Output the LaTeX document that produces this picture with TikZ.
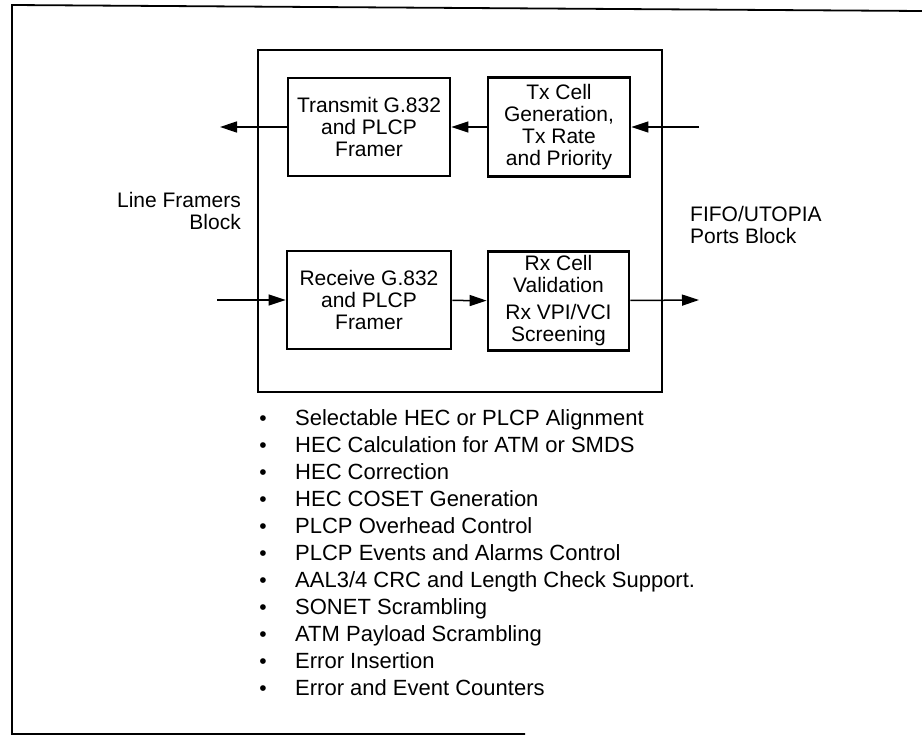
\documentclass[tikz,border=0pt]{standalone}
\usepackage{fontspec}
\setmainfont{Liberation Sans}
\usetikzlibrary{arrows.meta, positioning}

\begin{document}
\begin{tikzpicture}[
  x=1pt, y=-1pt,
  block/.style={rectangle, draw, line width=2.8pt, align=center, minimum height=98pt, inner sep=0pt, font=\fontsize{21}{22}\selectfont},
  sidetext/.style={inner sep=0pt, font=\fontsize{21}{22}\selectfont},
  feature/.style={inner sep=0pt, anchor=base west, font=\fontsize{22}{22}\selectfont},
  arrow/.style={-{Triangle[length=17pt, width=11pt]}, line width=1.5pt}
]
  \useasboundingbox (0,0) rectangle (922,736);
  \draw[line width=1.8pt] (922,11) -- (12,5) -- (12,734) -- (525,734);

  \node[draw, line width=1.6pt, minimum width=404pt, minimum height=342pt, inner sep=0pt] (core) at (460,221) {};

  \node[block, minimum width=162pt] (txframer) at (369,127) {Transmit G.832\\and PLCP\\Framer};
  \node[block, minimum width=142pt, minimum height=99pt] (txcell) at (559,127) {Tx Cell\\Generation,\\Tx Rate\\and Priority};
  \node[block, minimum width=164pt] (rxframer) at (369,300) {Receive G.832\\and PLCP\\Framer};
  \node[block, minimum width=141pt, minimum height=99pt] (rxcell) at (558.5,301) {Rx Cell\\Validation\\[5pt]Rx VPI/VCI\\Screening};

  \node[sidetext, align=right, anchor=east] (lineblk) at (241,211) {Line Framers\\Block};
  \node[sidetext, align=left, anchor=west] (fifoblk) at (690,225) {FIFO/UTOPIA\\Ports Block};

  \coordinate (lineout) at (220,127);
  \coordinate (linein) at (217,300);
  \coordinate (fifoin) at (699,127);
  \coordinate (fifoout) at (699,300);

  \draw[arrow] (txframer) -- (lineout);
  \draw[arrow] (txcell) -- (txframer);
  \draw[arrow] (fifoin) -- (txcell);
  \draw[arrow] (linein) -- (rxframer);
  \draw[arrow] (rxframer) -- (rxcell);
  \draw[arrow] (rxcell) -- (fifoout);

  % feature list
  \foreach \txt [count=\i] in {Selectable HEC or PLCP Alignment, HEC Calculation for ATM or SMDS, HEC Correction, HEC COSET Generation, PLCP Overhead Control, PLCP Events and Alarms Control, AAL3/4 CRC and Length Check Support., SONET Scrambling, ATM Payload Scrambling, Error Insertion, Error and Event Counters}{
    \node[sidetext, anchor=base] (bul\i) at (263,{425+27*(\i-1)}) {\textbullet};
    \node[feature] (feat\i) at (295,{425+27*(\i-1)}) {\txt};
  }
\end{tikzpicture}
\end{document}
